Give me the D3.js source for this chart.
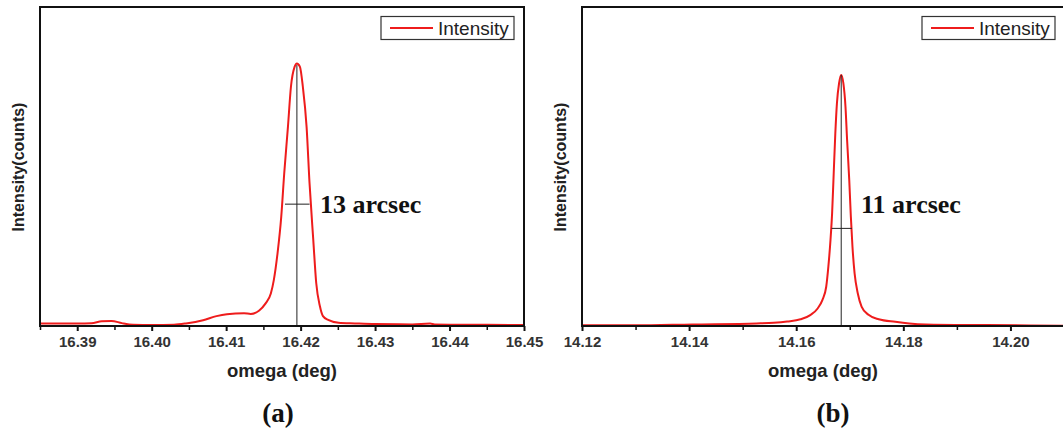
<!DOCTYPE html>
<html>
<head>
<meta charset="utf-8">
<script src="https://cdn.jsdelivr.net/npm/d3@7/dist/d3.min.js"></script>
<style>
  html, body { margin: 0; padding: 0; background: #fff; }
  svg { display: block; }
</style>
</head>
<body>
<svg id="chart" width="1063" height="430"></svg>
<script>
// ---------- DATA ----------
// Panel (a): omega (deg) and intensity (arbitrary counts)
const omegaA = [16.385, 16.3901, 16.3919, 16.3933, 16.3946, 16.3960, 16.3975, 16.4001, 16.4030, 16.4046,
  16.4069, 16.4087, 16.4101, 16.4124, 16.4133, 16.4144, 16.4153, 16.4160, 16.4164, 16.4169,
  16.4174, 16.4178, 16.4183, 16.4187, 16.4192, 16.4195, 16.4199, 16.4203, 16.4208, 16.4212,
  16.4217, 16.4221, 16.4226, 16.4230, 16.4237, 16.4251, 16.4273, 16.4300, 16.4350, 16.4374,
  16.4380, 16.4420, 16.4450, 16.4500];
const countsA = [8, 8, 9, 15, 16, 9, 4, 3, 4, 8,
  18, 31, 37, 40, 38, 48, 71, 102, 144, 228,
  343, 479, 625, 750, 813, 823, 813, 750, 625, 447,
  270, 134, 61, 31, 19, 10, 8, 6, 5, 8,
  5, 4, 4, 3];

// Panel (b)
const omegaB = [14.1200, 14.1300, 14.1406, 14.1526, 14.1558, 14.1583, 14.1608, 14.1627, 14.1640, 14.1649,
  14.1656, 14.1660, 14.1664, 14.1667, 14.1670, 14.1673, 14.1676, 14.1680, 14.1684, 14.1688,
  14.1692, 14.1695, 14.1699, 14.1702, 14.1705, 14.1709, 14.1715, 14.1722, 14.1735, 14.1754,
  14.1785, 14.1811, 14.1842, 14.1956, 14.2100];
const countsB = [2, 2, 5, 8, 10, 14, 21, 35, 55, 82,
  123, 186, 270, 353, 479, 604, 698, 761, 787, 761,
  687, 583, 458, 343, 249, 165, 102, 61, 35, 21,
  13, 8, 5, 3, 1];

// Axis ticks
const majorTicksA = [16.39, 16.40, 16.41, 16.42, 16.43, 16.44, 16.45];
const minorTicksA = [16.385, 16.395, 16.405, 16.415, 16.425, 16.435, 16.445];
const majorTicksB = [14.12, 14.14, 14.16, 14.18, 14.20];
const minorTicksB = [14.13, 14.15, 14.17, 14.19, 14.21];
const domainA = [16.385, 16.45];
const domainB = [14.12, 14.21];
const countDomain = [0, 1000];

// FWHM annotations: [center, left, right, halfLevel, peak]
const fwhmA = [16.4195, 16.4179, 16.4212, 382, 818];
const fwhmB = [14.1684, 14.1666, 14.1704, 306, 787];
const fwhmLabels = ["13 arcsec", "11 arcsec"];
const panelLabels = ["(a)", "(b)"];
const xTitle = "omega (deg)";
const yTitle = "Intensity(counts)";
const legendLabel = "Intensity";

// ---------- DRAW ----------
const svg = d3.select("#chart");
svg.append("rect").attr("width", 1063).attr("height", 430).attr("fill", "#fff");

const SANS = "'Liberation Sans', Arial, sans-serif";
const SERIF = "'Liberation Serif', 'Times New Roman', serif";
const RED = "#ee1c1c";

function drawPanel(p) {
  const g = svg.append("g");
  const x = d3.scaleLinear().domain(p.domain).range([p.left, p.right]);
  const y = d3.scaleLinear().domain(countDomain).range([p.bottom, p.top]);

  // clip
  const clipId = "clip" + p.id;
  svg.append("clipPath").attr("id", clipId)
    .append("rect").attr("x", p.left).attr("y", p.top)
    .attr("width", p.right - p.left).attr("height", p.bottom - p.top);

  // curve
  const pts = p.omega.map((o, i) => [o, p.counts[i]]);
  g.append("path")
    .datum(pts)
    .attr("clip-path", `url(#${clipId})`)
    .attr("fill", "none")
    .attr("stroke", RED)
    .attr("stroke-width", 2)
    .attr("stroke-linejoin", "round")
    .attr("d", d3.line().x(d => x(d[0])).y(d => y(d[1])).curve(d3.curveMonotoneX));

  // FWHM annotation
  const f = p.fwhm;
  g.append("line")
    .attr("x1", x(f[0])).attr("x2", x(f[0]))
    .attr("y1", y(f[4])).attr("y2", y(0))
    .attr("stroke", "#222").attr("stroke-width", 1);
  g.append("line")
    .attr("x1", x(f[1])).attr("x2", x(f[2]))
    .attr("y1", y(f[3])).attr("y2", y(f[3]))
    .attr("stroke", "#222").attr("stroke-width", 1);
  g.append("text")
    .attr("x", p.annX).attr("y", 213)
    .attr("font-family", SERIF).attr("font-weight", "bold")
    .attr("font-size", 26).attr("fill", "#111")
    .text(p.fwhmLabel);

  // minor ticks
  const minorAxis = d3.axisBottom(x).tickValues(p.minor).tickSize(4).tickFormat("");
  const gm = g.append("g").attr("transform", `translate(0,${p.bottom})`).call(minorAxis);
  gm.select(".domain").remove();
  gm.selectAll(".tick line").attr("stroke", "#111").attr("stroke-width", 1.5);

  // major ticks with labels
  const majorAxis = d3.axisBottom(x).tickValues(p.major).tickSize(5).tickPadding(5)
    .tickFormat(d3.format(".2f"));
  const ga = g.append("g").attr("transform", `translate(0,${p.bottom})`).call(majorAxis);
  ga.select(".domain").remove();
  ga.selectAll(".tick line").attr("stroke", "#111").attr("stroke-width", 2);
  ga.selectAll(".tick text")
    .attr("font-family", SANS).attr("font-weight", "bold")
    .attr("font-size", 15).attr("fill", "#333");

  // frame
  g.append("rect")
    .attr("x", p.left).attr("y", p.top)
    .attr("width", p.right - p.left).attr("height", p.bottom - p.top)
    .attr("fill", "none").attr("stroke", "#111").attr("stroke-width", 2);

  // legend
  const lg = g.append("g");
  lg.append("rect")
    .attr("x", p.legX).attr("y", 16.5).attr("width", 133).attr("height", 23)
    .attr("fill", "#fff").attr("stroke", "#333").attr("stroke-width", 1.2);
  lg.append("line")
    .attr("x1", p.legX + 9).attr("x2", p.legX + 52)
    .attr("y1", 28).attr("y2", 28)
    .attr("stroke", RED).attr("stroke-width", 2);
  lg.append("text")
    .attr("x", p.legX + 57).attr("y", 35)
    .attr("font-family", SANS).attr("font-size", 19).attr("fill", "#222")
    .text(legendLabel);

  // axis titles
  g.append("text")
    .attr("x", (p.left + p.right) / 2).attr("y", 377)
    .attr("text-anchor", "middle")
    .attr("font-family", SANS).attr("font-weight", "bold")
    .attr("font-size", 18.5).attr("fill", "#222")
    .text(xTitle);
  g.append("text")
    .attr("transform", `translate(${p.yTitleX},167) rotate(-90)`)
    .attr("text-anchor", "middle")
    .attr("font-family", SANS).attr("font-weight", "bold")
    .attr("font-size", 16).attr("fill", "#222")
    .text(yTitle);

  // panel label
  g.append("text")
    .attr("x", p.labelX).attr("y", 422)
    .attr("text-anchor", "middle")
    .attr("font-family", SERIF).attr("font-weight", "bold")
    .attr("font-size", 27).attr("fill", "#111")
    .text(p.label);
}

drawPanel({
  id: "A", domain: domainA, left: 40, right: 524, top: 7, bottom: 326,
  omega: omegaA, counts: countsA, major: majorTicksA, minor: minorTicksA,
  fwhm: fwhmA, fwhmLabel: fwhmLabels[0], annX: 320,
  legX: 381, yTitleX: 24, labelX: 278, label: panelLabels[0]
});
drawPanel({
  id: "B", domain: domainB, left: 582, right: 1064, top: 7, bottom: 326,
  omega: omegaB, counts: countsB, major: majorTicksB, minor: minorTicksB,
  fwhm: fwhmB, fwhmLabel: fwhmLabels[1], annX: 861,
  legX: 922, yTitleX: 566, labelX: 833, label: panelLabels[1]
});
</script>
</body>
</html>
